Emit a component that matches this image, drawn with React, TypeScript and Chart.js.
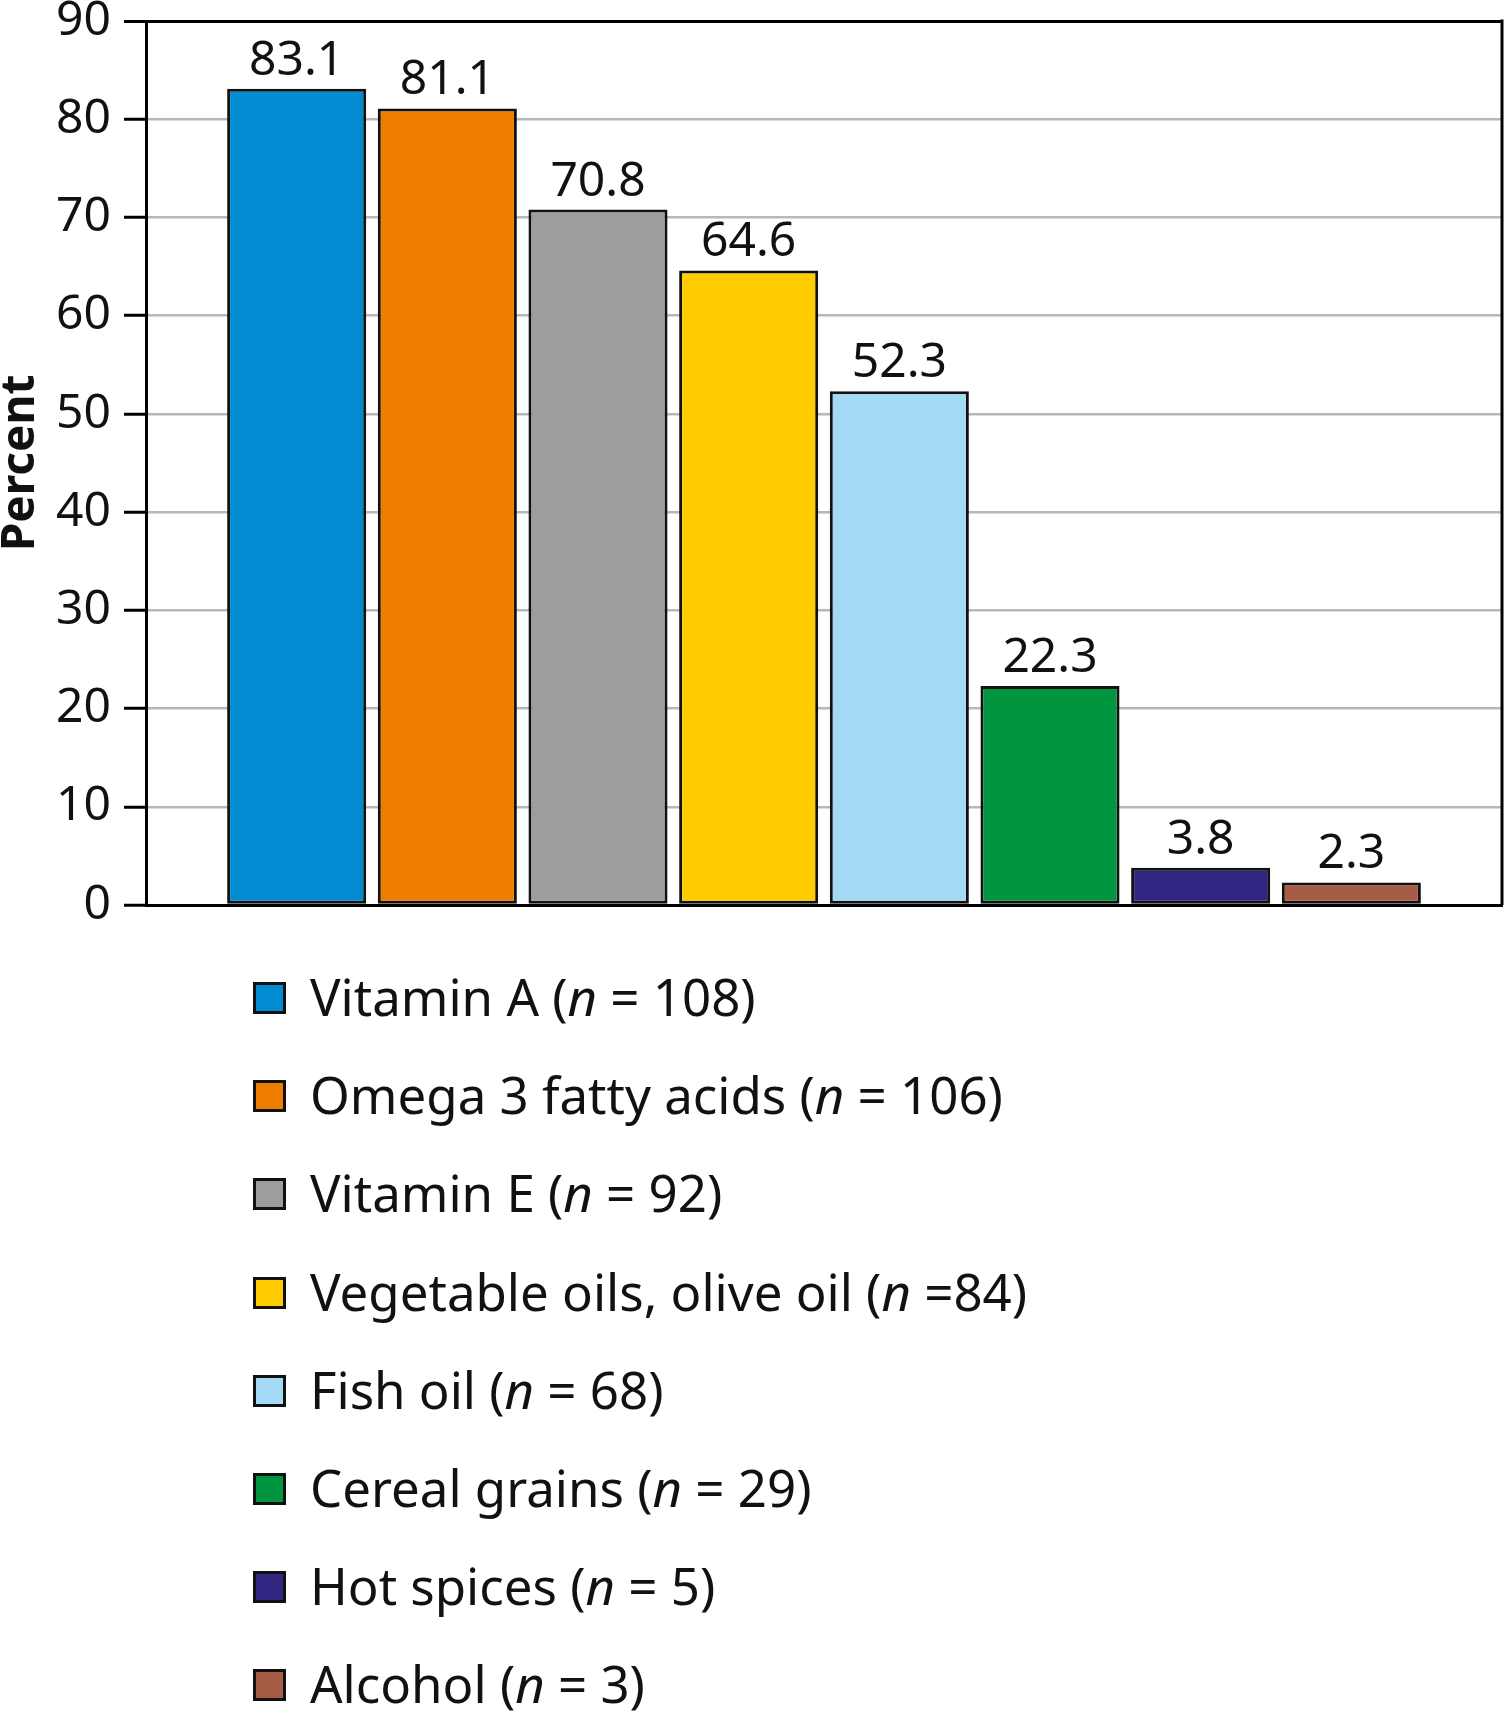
import React, { useEffect, useRef } from "react";
import { Chart, registerables } from "chart.js";

Chart.register(...registerables);

const categories = [
  "Vitamin A",
  "Omega 3 fatty acids",
  "Vitamin E",
  "Vegetable oils, olive oil",
  "Fish oil",
  "Cereal grains",
  "Hot spices",
  "Alcohol",
];
const percentValues = [83.1, 81.1, 70.8, 64.6, 52.3, 22.3, 3.8, 2.3];
const nCounts = ["108", "106", "92", "84", "68", "29", "5", "3"];
const nSeparators = [" = ", " = ", " = ", " =", " = ", " = ", " = ", " = "];
const barColors = [
  "#008bd2",
  "#ef7d00",
  "#9d9d9d",
  "#ffcc00",
  "#a3d9f5",
  "#009640",
  "#312783",
  "#a75d45",
];
const yTicks = [0, 10, 20, 30, 40, 50, 60, 70, 80, 90];

const FONT = "'Noto Sans', 'Open Sans', sans-serif";

const valueLabelPlugin = {
  id: "valueLabels",
  afterDatasetsDraw(chart: any) {
    const ctx = chart.ctx;
    const meta = chart.getDatasetMeta(0);
    ctx.save();
    ctx.font = `48px ${FONT}`;
    ctx.fillStyle = "#111";
    ctx.textAlign = "center";
    ctx.textBaseline = "alphabetic";
    meta.data.forEach((bar: any, i: number) => {
      ctx.fillText(percentValues[i].toFixed(1), bar.x, bar.y - 14);
    });
    ctx.restore();
  },
};

const framePlugin = {
  id: "frameRight",
  afterDatasetsDraw(chart: any) {
    const { ctx, chartArea } = chart;
    ctx.save();
    ctx.strokeStyle = "#000";
    ctx.lineWidth = 3;
    ctx.beginPath();
    ctx.moveTo(chartArea.right, chartArea.top - 1.5);
    ctx.lineTo(chartArea.right, chartArea.bottom);
    ctx.stroke();
    ctx.restore();
  },
};

export default function App() {
  const canvasRef = useRef<HTMLCanvasElement | null>(null);

  useEffect(() => {
    document.body.style.margin = "0";
    const canvas = canvasRef.current;
    if (!canvas) return;
    const chart = new Chart(canvas, {
      type: "bar",
      data: {
        datasets: [
          {
            label: "Percent",
            data: percentValues.map((v, i) => ({ x: i, y: v })),
            backgroundColor: barColors,
            borderColor: "#111",
            borderWidth: 3,
            borderSkipped: false,
            barPercentage: 0.923,
            categoryPercentage: 1,
          },
        ],
      },
      options: {
        animation: false,
        responsive: true,
        maintainAspectRatio: false,
        layout: { padding: { top: 21, right: 2, bottom: 25, left: 0 } },
        plugins: {
          legend: { display: false },
          tooltip: { enabled: false },
        },
        scales: {
          x: {
            type: "linear",
            min: -1,
            max: 8,
            offset: false,
            ticks: { display: false },
            grid: { display: true, color: "rgba(0,0,0,0)", drawTicks: false },
            border: { display: true, color: "#000", width: 3 },
            afterFit(scale: any) {
              scale.height = 0;
            },
          },
          y: {
            min: 0,
            max: 90,
            afterBuildTicks(scale: any) {
              scale.ticks = yTicks.map((v) => ({ value: v }));
            },
            ticks: {
              font: { family: FONT, size: 48, lineHeight: 0.25 },
              color: "#111",
              padding: 13,
              callback: (v: any) => String(v),
            },
            grid: {
              color: (c: any) =>
                c.tick && c.tick.value === 90
                  ? "#000"
                  : c.tick && c.tick.value === 0
                  ? "rgba(0,0,0,0)"
                  : "#b8b8b8",
              lineWidth: (c: any) => (c.tick && c.tick.value === 90 ? 3 : 2.5),
              tickColor: "#000",
              tickLength: 22,
              tickWidth: 3,
            },
            border: { display: true, color: "#000", width: 3 },
            title: {
              display: true,
              text: "Percent",
              color: "#111",
              font: { family: FONT, size: 46, weight: "bold", lineHeight: 0.9 },
              padding: 0,
            },
            afterFit(scale: any) {
              scale.width = 146;
            },
          },
        },
      },
      plugins: [valueLabelPlugin, framePlugin],
    });
    return () => chart.destroy();
  }, []);

  const rowPitch = 98.1;
  const firstRowTop = 947.2;

  return (
    <div style={{ position: "relative", width: 1504, height: 1715, background: "#fff", overflow: "hidden" }}>
      <div style={{ position: "absolute", left: 0, top: 0, width: 1504, height: 930 }}>
        <canvas ref={canvasRef} />
      </div>
      {categories.map((cat, i) => (
        <div
          key={cat}
          style={{
            position: "absolute",
            left: 0,
            top: firstRowTop + i * rowPitch,
            width: 1504,
            height: rowPitch,
          }}
        >
          <div
            style={{
              position: "absolute",
              left: 253,
              top: 35,
              width: 33,
              height: 32,
              boxSizing: "border-box",
              border: "3px solid #111",
              background: barColors[i],
            }}
          />
          <div
            style={{
              position: "absolute",
              left: 310,
              top: 0,
              lineHeight: `${rowPitch}px`,
              fontSize: 51,
              fontFamily: FONT,
              color: "#111",
              whiteSpace: "nowrap",
            }}
          >
            {cat} (<i>n</i>
            {nSeparators[i]}
            {nCounts[i]})
          </div>
        </div>
      ))}
    </div>
  );
}
